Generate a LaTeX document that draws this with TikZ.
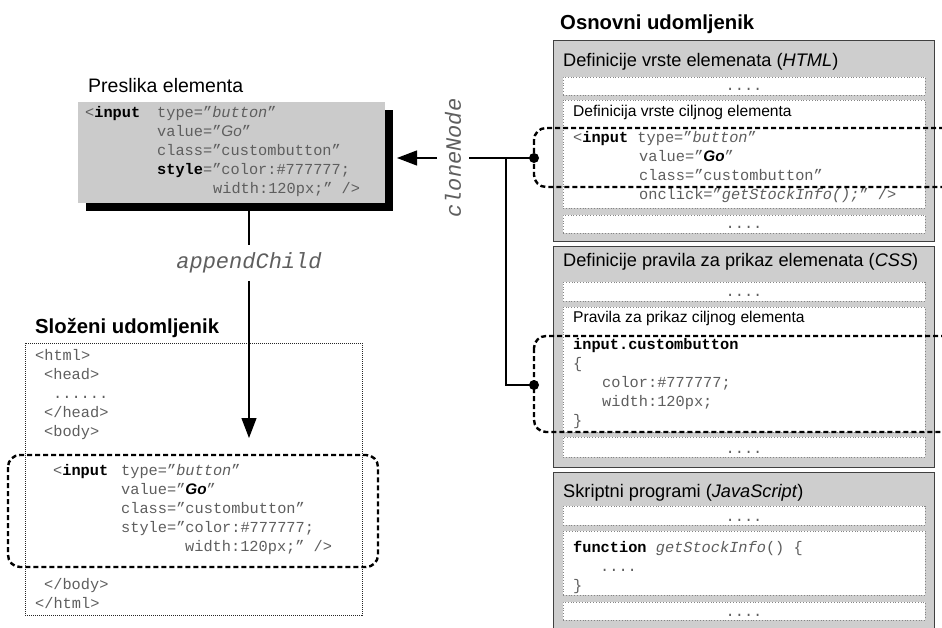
\documentclass[tikz,border=0pt]{standalone}
\usepackage{fontspec}
\setmainfont{Liberation Sans}
\setmonofont{Liberation Mono}
\usetikzlibrary{arrows.meta}
\definecolor{codegray}{HTML}{5E5E5E}
\definecolor{panelgray}{HTML}{CECECE}
\definecolor{boxgray}{HTML}{CBCBCB}
\definecolor{dotgray}{HTML}{858585}
\newcommand{\cf}{\ttfamily\fontsize{15.3}{19}\selectfont}
\newcommand{\kw}[1]{\textbf{\color{black}#1}}
\newcommand{\goB}{{\rmfamily\bfseries\itshape\color{black}Go}}
\newcommand{\goI}{{\rmfamily\itshape Go}}
\begin{document}
\begin{tikzpicture}[x=1pt,y=-1pt,
  code/.style={anchor=base west, inner sep=0pt, font=\cf, text=codegray},
  ttl/.style={anchor=base west, inner sep=0pt, font=\bfseries\fontsize{20.3}{24}\selectfont},
  ptitle/.style={anchor=base west, inner sep=0pt, font=\fontsize{18.2}{22}\selectfont},
  subttl/.style={anchor=base west, inner sep=0pt, font=\fontsize{15.6}{19}\selectfont},
  dotline/.style={anchor=base, inner sep=0pt, font=\cf, text=codegray},
  bx/.style={anchor=north west, inner sep=0pt, outer sep=0pt},
  panel/.style={bx, draw=black!75, line width=1pt, fill=panelgray},
  inbox/.style={bx, draw=dotgray, dotted, line width=0.8pt, fill=white},
  focus/.style={draw=black, line width=2.4pt, dash pattern=on 5pt off 3pt, rounded corners=12pt},
  conn/.style={draw=black, line width=1.2pt},
  tip/.style={-{Triangle[length=20pt,width=15pt]}},
  jdot/.style={circle, fill=black, inner sep=0pt, minimum size=10pt},
  vlabel/.style={font=\ttfamily\itshape\fontsize{22}{26}\selectfont, text=codegray, inner sep=7.5pt}
]
\clip (0,0) rectangle (942,628);

% ---------- right: Osnovni udomljenik ----------
\node[ttl] (tOsn) at (560,30) {Osnovni udomljenik};

\node[panel, minimum width=381, minimum height=201] (p1) at (553,41) {};
\node[inbox, minimum width=362, minimum height=18] (p1a) at (563,77) {};
\node[inbox, minimum width=362, minimum height=108] (p1b) at (563,100) {};
\node[inbox, minimum width=362, minimum height=18] (p1c) at (563,215) {};
\node[ptitle] (p1t) at (563,67) {Definicije vrste elemenata (\textit{HTML})};
\node[dotline] (p1ad) at (744,91) {....};
\node[subttl] (p1bt) at (573,117) {Definicija vrste ciljnog elementa};
\node[code] (h1) at (573,143) {<\kw{input} type=”\textit{button}”};
\node[code] (h2) at (639,162) {value=”\goB”};
\node[code] (h3) at (639,181) {class=”custombutton”};
\node[code] (h4) at (639,200) {onclick=”\textit{getStockInfo();}” />};
\node[dotline] (p1cd) at (744,229) {....};

\node[panel, minimum width=381, minimum height=220] (p2) at (553,247) {};
\node[inbox, minimum width=362, minimum height=19] (p2a) at (563,282) {};
\node[inbox, minimum width=362, minimum height=125] (p2b) at (563,307) {};
\node[inbox, minimum width=362, minimum height=20] (p2c) at (563,437) {};
\node[ptitle] (p2t) at (563,267) {Definicije pravila za prikaz elemenata (\textit{CSS})};
\node[dotline] (p2ad) at (744,297) {....};
\node[subttl] (p2bt) at (573,323) {Pravila za prikaz ciljnog elementa};
\node[code] (c1) at (573,349) {\kw{input.custombutton}};
\node[code] (c2) at (573,368) {\{};
\node[code] (c3) at (602,387) {color:\#777777;};
\node[code] (c4) at (602,406) {width:120px;};
\node[code] (c5) at (573,425) {\}};
\node[dotline] (p2cd) at (744,453) {....};

\node[panel, minimum width=381, minimum height=170] (p3) at (553,472) {};
\node[inbox, minimum width=362, minimum height=19] (p3a) at (563,506) {};
\node[inbox, minimum width=362, minimum height=64] (p3b) at (563,531) {};
\node[inbox, minimum width=362, minimum height=18] (p3c) at (563,602) {};
\node[ptitle] (p3t) at (563,497) {Skriptni programi (\textit{JavaScript})};
\node[dotline] (p3ad) at (744,521) {....};
\node[code] (j1) at (573,552) {\kw{function} \textit{getStockInfo}() \{};
\node[code] (j2) at (600,571) {....};
\node[code] (j3) at (573,590) {\}};
\node[dotline] (p3cd) at (744,616) {....};

\draw[focus] (534,128) rectangle (962,187);
\draw[focus] (534,336) rectangle (962,432);

% ---------- left top: Preslika elementa ----------
\node[anchor=base west, inner sep=0pt, font=\fontsize{19.5}{23}\selectfont] (tPres) at (88,93) {Preslika elementa};
\node[bx, fill=black, minimum width=307, minimum height=101] (presShadow) at (86,110) {};
\node[bx, fill=boxgray, minimum width=307, minimum height=101] (pres) at (78,102) {};
\node[code] (t1) at (85,118) {\makebox[72pt][l]{<\kw{input}}type=”\textit{button}”};
\node[code] (t2) at (157,137) {value=”\goI”};
\node[code] (t3) at (157,156) {class=”custombutton”};
\node[code] (t4) at (157,175) {\kw{style}=”color:\#777777;};
\node[code] (t5) at (213,194) {width:120px;” />};

% ---------- left bottom: Slozeni udomljenik ----------
\node[ttl] (tSlo) at (35,333) {Složeni udomljenik};
\node[bx, draw=black!85, densely dotted, line width=1pt, minimum width=337, minimum height=272] (comp) at (25,343) {};
\node[code] (b1) at (35,360) {<html>};
\node[code] (b2) at (44,379) {<head>};
\node[code] (b3) at (53,398) {......};
\node[code] (b4) at (44,417) {</head>};
\node[code] (b5) at (44,436) {<body>};
\node[code] (b6) at (53,475) {\makebox[68pt][l]{<\kw{input}}type=”\textit{button}”};
\node[code] (b7) at (121,494) {value=”\goB”};
\node[code] (b8) at (121,513) {class=”custombutton”};
\node[code] (b9) at (121,532) {style=”color:\#777777;};
\node[code] (b10) at (185,551) {width:120px;” />};
\node[code] (b11) at (44,589) {</body>};
\node[code] (b12) at (35,608) {</html>};
\draw[focus] (8,455) rectangle (378,567);

% ---------- connectors ----------
\coordinate (d1) at (534,158);
\coordinate (d2) at (534,385);
\coordinate (jn) at (506,158);
\coordinate (cloneTip) at (397,158);
\node[vlabel, rotate=90] (cloneLbl) at (453,158) {cloneNode};
\draw[conn] (d1) -- (cloneLbl.south);
\draw[conn, tip] (cloneLbl.north) -- (cloneTip);
\draw[conn] (jn) |- (d2);
\node[jdot] (dot1) at (d1) {};
\node[jdot] (dot2) at (d2) {};

\coordinate (appStart) at (249,211);
\coordinate (appTip) at (249,438);
\node[vlabel] (appLbl) at (249,263) {appendChild};
\draw[conn] (appStart) -- (appLbl.north);
\draw[conn, tip] (appLbl.south) -- (appTip);
\end{tikzpicture}
\end{document}
